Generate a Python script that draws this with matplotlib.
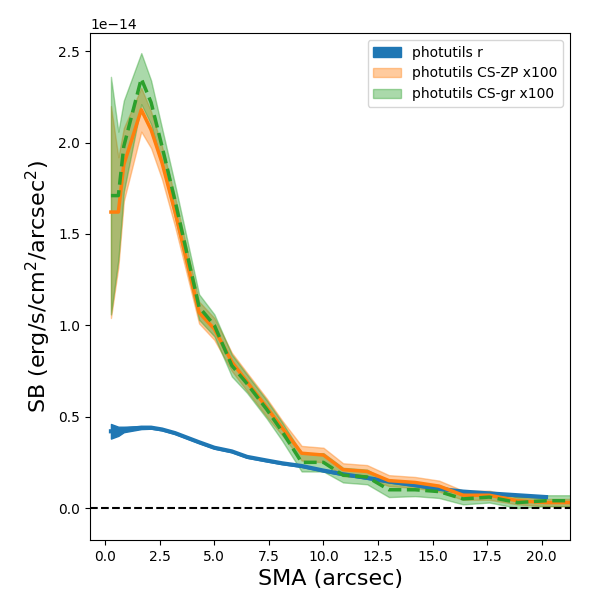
import matplotlib
matplotlib.use("Agg")
import matplotlib.pyplot as plt
import numpy as np

# SMA (arcsec) of the sampled isophotes
sma = np.array([0.26, 0.6, 0.85, 1.65, 2.1, 2.6, 3.2, 4.3, 5.0, 5.8, 6.5, 7.4, 8.1, 9.0,
                10.0, 10.9, 12.0, 13.0, 14.2, 15.3, 16.4, 17.6, 18.9, 20.2, 21.4])

# photutils r profile (units of 1e-14)
sb_r = np.array([0.42, 0.42, 0.43, 0.44, 0.44, 0.43, 0.41, 0.36, 0.33, 0.31, 0.28, 0.26, 0.245, 0.23,
                 0.205, 0.185, 0.165, 0.145, 0.125, 0.105, 0.09, 0.08, 0.07, 0.06, 0.055])
sb_r_err = np.array([0.04, 0.025, 0.015, 0.008, 0.006, 0.005, 0.005, 0.005, 0.005, 0.005, 0.005, 0.005, 0.005,
                     0.005, 0.005, 0.005, 0.005, 0.005, 0.005, 0.005, 0.005, 0.005, 0.005, 0.005, 0.005])

# CS-ZP x100
sb_zp = np.array([1.62, 1.62, 1.88, 2.18, 2.07, 1.89, 1.62, 1.07, 0.98, 0.80, 0.69, 0.55, 0.44, 0.30,
                  0.29, 0.21, 0.20, 0.15, 0.14, 0.12, 0.07, 0.07, 0.04, 0.03, 0.03])
sb_zp_err = np.array([0.58, 0.30, 0.20, 0.12, 0.10, 0.09, 0.08, 0.06, 0.06, 0.05, 0.05, 0.05, 0.04, 0.04,
                      0.04, 0.035, 0.035, 0.03, 0.03, 0.03, 0.025, 0.025, 0.02, 0.02, 0.02])

# CS-gr x100
sb_gr = np.array([1.71, 1.71, 1.98, 2.35, 2.22, 1.98, 1.68, 1.10, 1.00, 0.78, 0.68, 0.54, 0.42, 0.25,
                  0.25, 0.18, 0.17, 0.10, 0.10, 0.09, 0.05, 0.06, 0.03, 0.04, 0.04])
sb_gr_err = np.array([0.65, 0.35, 0.25, 0.14, 0.12, 0.10, 0.09, 0.07, 0.06, 0.06, 0.05, 0.05, 0.05, 0.05,
                      0.05, 0.04, 0.04, 0.04, 0.035, 0.035, 0.03, 0.03, 0.03, 0.03, 0.03])

scale = 1e-14
fig, ax = plt.subplots(figsize=(6, 6), dpi=100)

m = sma <= 20.3
ax.fill_between(sma[m], (sb_r[m] - sb_r_err[m]) * scale, (sb_r[m] + sb_r_err[m]) * scale,
                color='C0', label='photutils r')
ax.plot(sma[m], sb_r[m] * scale, color='C0', lw=3)

ax.fill_between(sma, (sb_zp - sb_zp_err) * scale, (sb_zp + sb_zp_err) * scale,
                color='C1', alpha=0.4, label='photutils CS-ZP x100')
ax.plot(sma, sb_zp * scale, color='C1', lw=2.5)

ax.fill_between(sma, (sb_gr - sb_gr_err) * scale, (sb_gr + sb_gr_err) * scale,
                color='C2', alpha=0.4, label='photutils CS-gr x100')
ax.plot(sma, sb_gr * scale, color='C2', lw=2.5, ls='--')

ax.axhline(0, color='k', ls='--', lw=1.5)

ax.set_xlim(-0.7, 21.3)
ax.set_ylim(-0.175e-14, 2.60e-14)
ax.set_xlabel('SMA (arcsec)', fontsize=16)
ax.set_ylabel(r'SB (erg/s/cm$^2$/arcsec$^2$)', fontsize=16)
ax.legend(loc='upper right')

plt.subplots_adjust(left=0.15, right=0.95, bottom=0.1, top=0.945)
plt.savefig('out.png')
